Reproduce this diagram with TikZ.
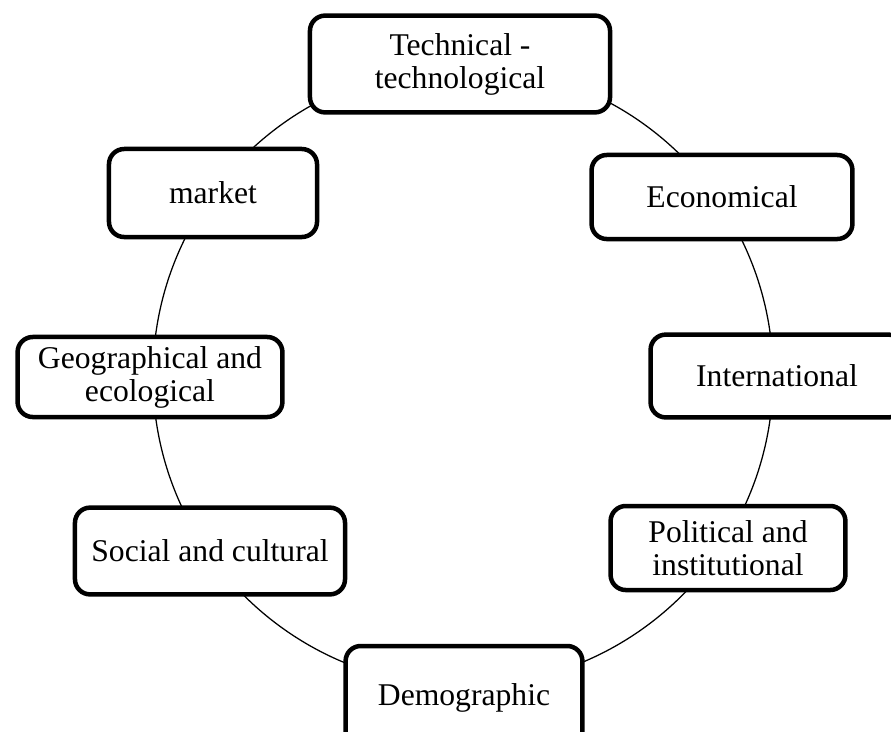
\documentclass[tikz,border=0pt]{standalone}
\usepackage{fontspec}
\setmainfont{Liberation Serif}

\begin{document}
\begin{tikzpicture}[x=0.025cm, y=-0.025cm,
  factor/.style={draw, fill=white, line width=3.2pt, rounded corners=0.38cm,
    align=center, inner sep=0pt, font=\fontsize{22.5}{23.5}\selectfont}]
  \clip (0,0) rectangle (891,731);
  % ring behind the boxes
  \coordinate (centre) at (463,376);
  \draw[line width=0.9pt] (centre) circle (7.75cm);
  % factors round the ring
  \node[factor, minimum width=7.5cm,  minimum height=2.42cm] (tech)   at (460,64)  {Technical -\\technological};
  \node[factor, minimum width=6.52cm, minimum height=2.1cm]  (econ)   at (722,197) {Economical};
  \node[factor, minimum width=6.32cm, minimum height=2.07cm] (intl)   at (777,376) {International};
  \node[factor, minimum width=5.87cm, minimum height=2.1cm]  (polit)  at (728,548) {Political and\\institutional};
  \node[factor, minimum width=5.92cm, minimum height=2.6cm]  (demo)   at (464,698) {Demographic};
  \node[factor, minimum width=6.75cm, minimum height=2.17cm] (social) at (210,551) {Social and cultural};
  \node[factor, minimum width=6.62cm, minimum height=2cm]    (geo)    at (150,377) {Geographical and\\ecological};
  \node[factor, minimum width=5.2cm,  minimum height=2.2cm]  (market) at (213,193) {market};
\end{tikzpicture}
\end{document}
